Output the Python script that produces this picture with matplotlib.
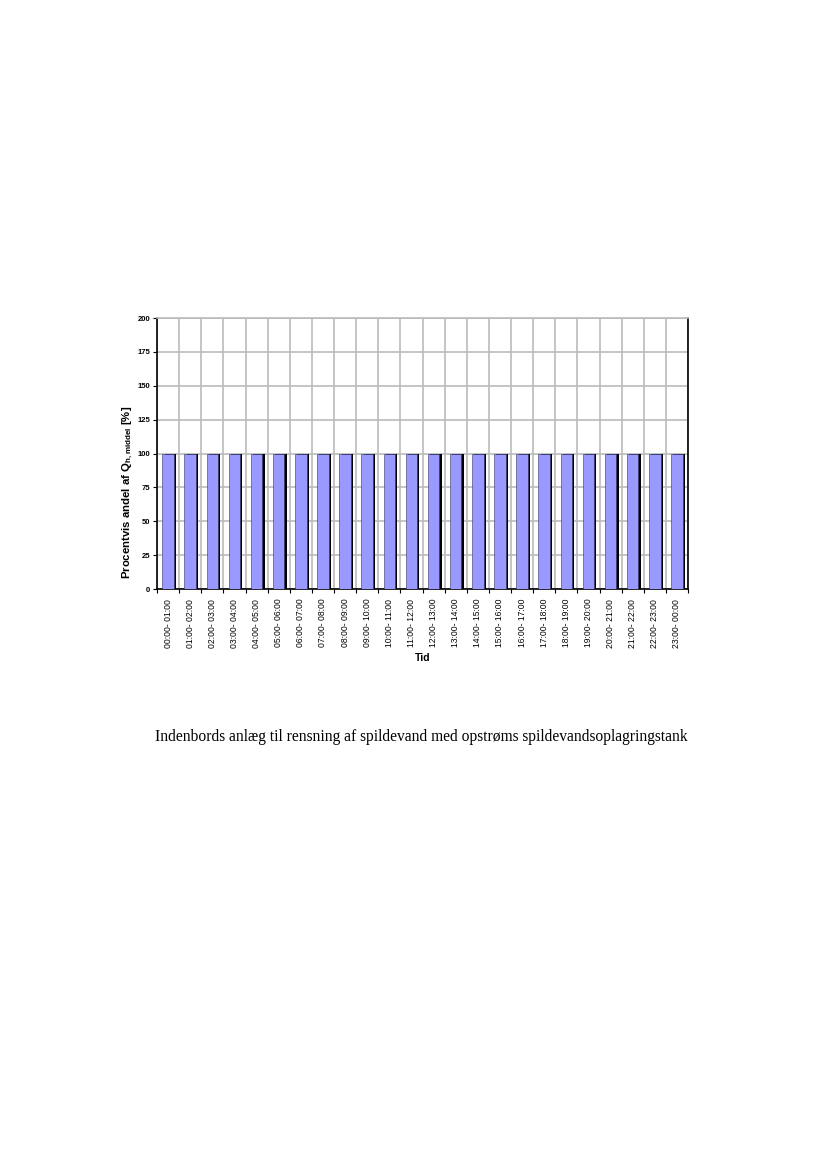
import matplotlib
matplotlib.use("Agg")
import matplotlib.pyplot as plt
import numpy as np

categories = [f"{h:02d}:00- {(h+1)%24:02d}:00" for h in range(24)]
values = [100] * 24
yticks = [0, 25, 50, 75, 100, 125, 150, 175, 200]

fig = plt.figure(figsize=(8.27, 11.69), dpi=100)
ax = fig.add_axes([157/827, 1-589/1169, (688-157)/827, (589-318)/1169])

x = np.arange(len(categories))
w = 0.52
ax.bar(x + 0.1, values, width=w, color="black", zorder=2)
ax.bar(x, values, width=w, color="#9999FF", edgecolor="#333366", linewidth=0.4, zorder=3)

ax.set_xlim(-0.5, len(categories) - 0.5)
ax.set_ylim(0, 200)
ax.set_yticks(yticks)
ax.set_yticklabels([str(t) for t in yticks], fontsize=5.5, fontweight="bold", family="Liberation Sans")
ax.set_xticks(x)
ax.set_xticklabels(categories, rotation=90, fontsize=6.2, family="Liberation Sans")
ax.set_xticks(np.arange(-0.5, len(categories), 1), minor=True)
ax.tick_params(axis="x", which="major", length=0, pad=7)
ax.tick_params(axis="x", which="minor", length=3, width=0.8, direction="out")
ax.tick_params(axis="y", length=3, width=0.8, pad=2)
ax.grid(axis="y", color="#BBBBBB", linewidth=1.2, zorder=0)
ax.grid(axis="x", which="minor", color="#BBBBBB", linewidth=1.2, zorder=0)
ax.set_axisbelow(True)
for s in ["left", "bottom", "right"]:
    ax.spines[s].set_linewidth(1.2)
    ax.spines[s].set_color("black")
ax.spines["top"].set_color("#BBBBBB")
ax.spines["top"].set_linewidth(1.2)

ax.set_ylabel(r"Procentvis andel af Q$_{\mathregular{h,middel}}$ [%]", fontsize=8.2,
              fontweight="bold", family="Liberation Sans")
ax.yaxis.set_label_coords(-0.042, 0.355)
ax.set_xlabel("Tid", fontsize=7.5, fontweight="bold", family="Liberation Sans")
ax.xaxis.set_label_coords(0.5, -0.237)

fig.text(421/827, 1-737/1169, "Indenbords anlæg til rensning af spildevand med opstrøms spildevandsoplagringstank",
         ha="center", va="center", fontsize=11.2, family="Liberation Serif")

fig.savefig("out.png", dpi=100)
